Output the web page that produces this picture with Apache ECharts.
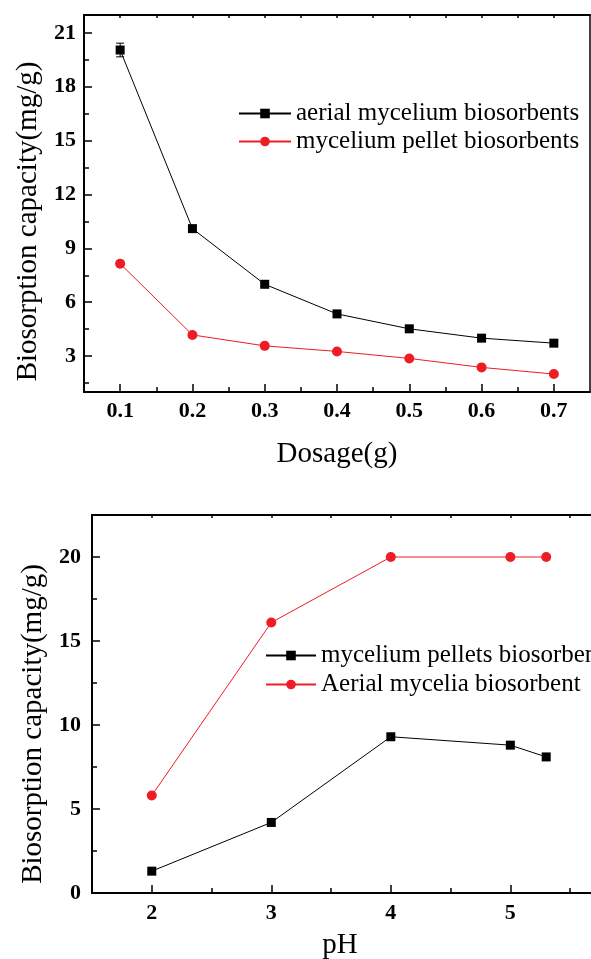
<!DOCTYPE html>
<html>
<head>
<meta charset="utf-8">
<script src="https://cdn.jsdelivr.net/npm/echarts@6/dist/echarts.min.js"></script>
<style>
  html, body { margin: 0; padding: 0; background: #fff; }
  #chart { width: 591px; height: 959px; }
</style>
</head>
<body>
<div id="chart"></div>
<script>
// top panel: capacity vs dosage
const dosage = [0.1, 0.2, 0.3, 0.4, 0.5, 0.6, 0.7];
const aerialByDosage = [20.05, 10.1, 7.0, 5.35, 4.52, 4.0, 3.72];
const aerialErrByDosage = [0.38, 0.12, 0.1, 0.1, 0.1, 0.1, 0.1];
const pelletByDosage = [8.15, 4.18, 3.57, 3.26, 2.87, 2.37, 2.0];
const dosageTicks = [0.1, 0.2, 0.3, 0.4, 0.5, 0.6, 0.7];
const dosageMinor = [0.15, 0.25, 0.35, 0.45, 0.55, 0.65];
const capTicksTop = [3, 6, 9, 12, 15, 18, 21];
const capMinorTop = [1.5, 4.5, 7.5, 10.5, 13.5, 16.5, 19.5];

// bottom panel: capacity vs pH
const pH = [2, 3, 4, 5, 5.3];
const pelletByPH = [1.3, 4.2, 9.3, 8.8, 8.1];
const aerialByPH = [5.8, 16.1, 20.0, 20.0, 20.0];
const pHTicks = [2, 3, 4, 5];
const pHMinor = [2.5, 3.5, 4.5, 5.5];
const capTicksBottom = [0, 5, 10, 15, 20];
const capMinorBottom = [2.5, 7.5, 12.5, 17.5];

const FONT = "'Liberation Serif', 'Times New Roman', serif";
const RED = '#ee1c25';

// one side of a frame: main axis (labels + long ticks) and a minor-tick twin
function axisPair(gridIndex, position, min, max, major, minor, main) {
  const base = {
    type: 'value', gridIndex, position, min, max,
    splitLine: { show: false },
    axisLine: { onZero: false, lineStyle: { color: '#000', width: 2 } }
  };
  return [
    Object.assign({}, base, {
      axisTick: { inside: true, length: 8, customValues: major, lineStyle: { color: '#000', width: 1.5 } },
      axisLabel: {
        customValues: major, color: '#000', fontFamily: FONT, fontWeight: 'bold', fontSize: 22,
        margin: main.labelMargin, formatter: main.fmt
      },
      name: main.name, nameLocation: 'middle', nameGap: main.nameGap,
      nameTextStyle: { color: '#000', fontFamily: FONT, fontSize: 29, padding: main.namePad || 0 }
    }),
    Object.assign({}, base, {
      axisLine: { show: false, onZero: false },
      axisTick: { inside: true, length: 5, customValues: minor, lineStyle: { color: '#000', width: 1.5 } },
      axisLabel: { show: false }
    })
  ];
}

function mirror(gridIndex, position, min, max, ticks, width) {
  return {
    type: 'value', gridIndex, position, min, max,
    splitLine: { show: false },
    axisLine: { onZero: false, lineStyle: { color: '#000', width: width } },
    axisTick: ticks ? { inside: true, length: 3, customValues: ticks, lineStyle: { color: '#000', width: 1.5 } } : { show: false },
    axisLabel: { show: false }
  };
}

const xAxes = [].concat(
  axisPair(0, 'bottom', 0.05, 0.75, dosageTicks, dosageMinor,
    { name: 'Dosage(g)', nameGap: 48, labelMargin: 8, fmt: v => v.toFixed(1) }),
  [mirror(0, 'top', 0.05, 0.75, dosageTicks.concat(dosageMinor), 2)],
  axisPair(1, 'bottom', 1.5, 5.75, pHTicks, pHMinor,
    { name: 'pH', nameGap: 38, labelMargin: 9, fmt: v => String(v), namePad: [0, 12, 0, 0] }),
  [mirror(1, 'top', 1.5, 5.75, pHTicks.concat(pHMinor), 2)]
);
// xAxis indices: 0 main top-panel, 1 minor, 2 mirror, 3 main bottom-panel, 4 minor, 5 mirror

const yAxes = [].concat(
  axisPair(0, 'left', 1, 22, capTicksTop, capMinorTop,
    { name: 'Biosorption capacity(mg/g)', nameGap: 38, labelMargin: 8, fmt: v => String(v), namePad: [0, 36, 0, 0] }),
  [mirror(0, 'right', 1, 22, null, 1.5)],
  axisPair(1, 'left', 0, 22.5, capTicksBottom, capMinorBottom,
    { name: 'Biosorption capacity(mg/g)', nameGap: 42, labelMargin: 11, fmt: v => String(v), namePad: [0, 40, 0, 0] }),
  [mirror(1, 'right', 0, 22.5, null, 1.5)]
);
// yAxis indices: 0 main top, 1 minor, 2 mirror, 3 main bottom, 4 minor, 5 mirror

const pair = (xs, ys) => xs.map((x, i) => [x, ys[i]]);

const lineSeries = (name, xIdx, yIdx, data, color, symbol, size) => ({
  name, type: 'line', xAxisIndex: xIdx, yAxisIndex: yIdx, data,
  symbol, symbolSize: size,
  lineStyle: { color, width: 1 },
  itemStyle: { color },
  z: 3
});

const option = {
  animation: false,
  backgroundColor: '#fff',
  grid: [
    { left: 84, top: 15, right: 1, bottom: 567, outerBoundsMode: 'none', containLabel: false },
    { left: 92, top: 515, right: -9, bottom: 66, outerBoundsMode: 'none', containLabel: false }
  ],
  legend: [
    {
      data: ['aerial mycelium biosorbents', 'mycelium pellet biosorbents'],
      orient: 'vertical', left: 238, top: 101, padding: 0, itemWidth: 52, itemHeight: 12, itemGap: 3,
      textStyle: { color: '#000', fontFamily: FONT, fontSize: 25, lineHeight: 25 }
    },
    {
      data: ['mycelium pellets biosorbent', 'Aerial mycelia biosorbent'],
      orient: 'vertical', left: 265, top: 643, padding: 0, itemWidth: 50, itemHeight: 12, itemGap: 4,
      textStyle: { color: '#000', fontFamily: FONT, fontSize: 25, lineHeight: 25 }
    }
  ],
  xAxis: xAxes,
  yAxis: yAxes,
  series: [
    lineSeries('aerial mycelium biosorbents', 0, 0, pair(dosage, aerialByDosage), '#000', 'rect', 9),
    lineSeries('mycelium pellet biosorbents', 0, 0, pair(dosage, pelletByDosage), RED, 'circle', 10),
    {
      type: 'custom', xAxisIndex: 0, yAxisIndex: 0, z: 5,
      data: dosage.map((x, i) => [x, aerialByDosage[i] - aerialErrByDosage[i], aerialByDosage[i] + aerialErrByDosage[i]]),
      encode: { x: 0, y: [1, 2] },
      renderItem: (params, api) => {
        const x = api.value(0);
        const lo = api.coord([x, api.value(1)]);
        const hi = api.coord([x, api.value(2)]);
        const w = 4;
        const st = { stroke: '#000', lineWidth: 1 };
        return {
          type: 'group',
          children: [
            { type: 'line', shape: { x1: lo[0], y1: lo[1], x2: hi[0], y2: hi[1] }, style: st },
            { type: 'line', shape: { x1: lo[0] - w, y1: lo[1], x2: lo[0] + w, y2: lo[1] }, style: st },
            { type: 'line', shape: { x1: hi[0] - w, y1: hi[1], x2: hi[0] + w, y2: hi[1] }, style: st }
          ]
        };
      }
    },
    lineSeries('mycelium pellets biosorbent', 3, 3, pair(pH, pelletByPH), '#000', 'rect', 9),
    lineSeries('Aerial mycelia biosorbent', 3, 3, pair(pH, aerialByPH), RED, 'circle', 10)
  ]
};

const myChart = echarts.init(document.getElementById('chart'), null, { renderer: 'canvas' });
myChart.setOption(option);
</script>
</body>
</html>
